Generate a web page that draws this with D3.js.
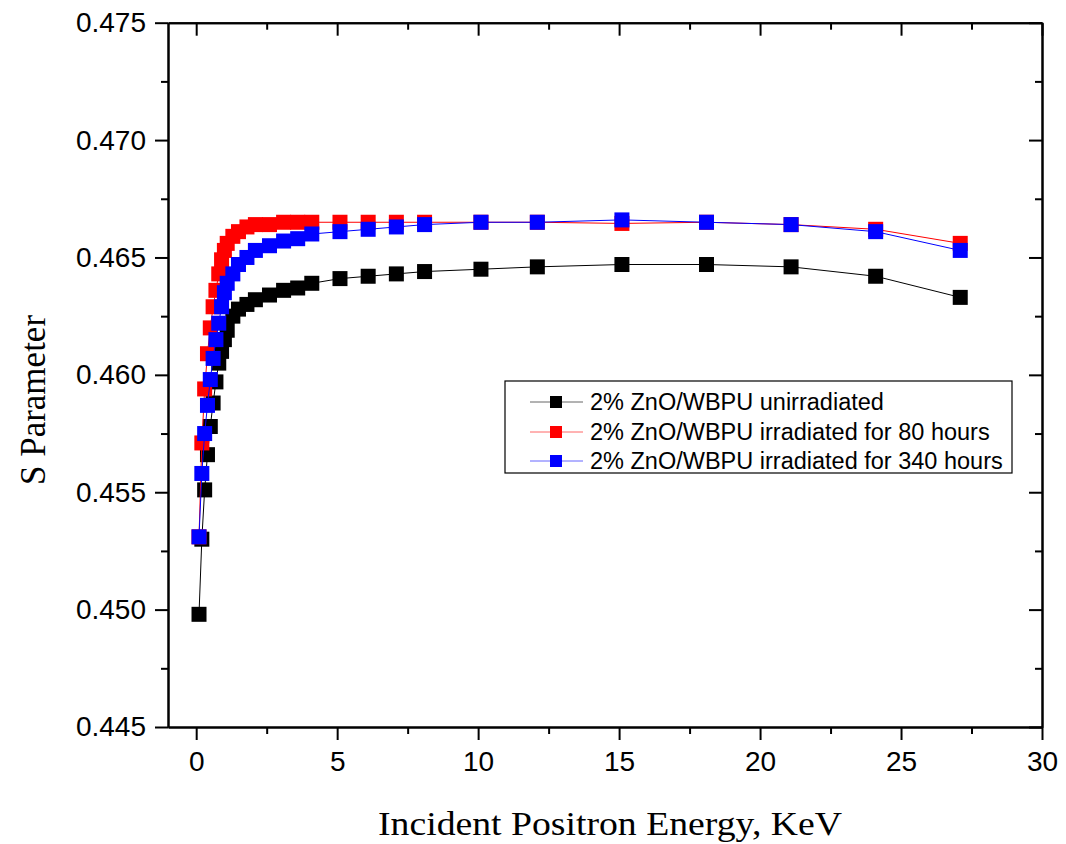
<!DOCTYPE html>
<html>
<head>
<meta charset="utf-8">
<script src="https://cdn.jsdelivr.net/npm/d3@7"></script>
<style>
  html, body { margin: 0; padding: 0; background: #fff; }
  svg { display: block; }
</style>
</head>
<body>
<svg id="chart" width="1066" height="844"></svg>
<script>
// ---- data ----
const energy = [0.1,0.2,0.3,0.4,0.5,0.6,0.7,0.8,0.9,1.0,1.1,1.3,1.5,1.8,2.1,2.6,3.1,3.6,4.1,5.1,6.1,7.1,8.1,10.1,12.1,15.1,18.1,21.1,24.1,27.1];
const sUnirradiated = [0.4498,0.4530,0.4551,0.4566,0.4578,0.4588,0.4597,0.4605,0.4610,0.4615,0.4619,0.4625,0.4628,0.4630,0.4632,0.4634,0.4636,0.4637,0.4639,0.4641,0.4642,0.4643,0.4644,0.4645,0.4646,0.4647,0.4647,0.4646,0.4642,0.4633];
const sIrr80 = [0.4531,0.4571,0.4594,0.4609,0.4620,0.4629,0.4636,0.4643,0.4649,0.4653,0.4656,0.4659,0.4661,0.4663,0.4664,0.4664,0.4665,0.4665,0.4665,0.4665,0.4665,0.4665,0.4665,0.4665,0.4665,0.46645,0.4665,0.4664,0.4662,0.4656];
const sIrr340 = [0.4531,0.4558,0.4575,0.4587,0.4598,0.4607,0.4615,0.4622,0.4629,0.4635,0.4639,0.4643,0.4647,0.4650,0.4653,0.4655,0.4657,0.4658,0.4660,0.4661,0.4662,0.4663,0.4664,0.4665,0.4665,0.4666,0.4665,0.4664,0.4661,0.4653];
const seriesNames = ["2% ZnO/WBPU unirradiated", "2% ZnO/WBPU irradiated for 80 hours", "2% ZnO/WBPU irradiated for 340 hours"];
const seriesColors = ["#000000", "#ff0000", "#0000ff"];
const xTicks = [0,5,10,15,20,25,30];
const yTicks = [0.445,0.450,0.455,0.460,0.465,0.470,0.475];
const xTitle = "Incident Positron Energy, KeV";
const yTitle = "S Parameter";

const seriesValues = [sUnirradiated, sIrr80, sIrr340];

// ---- layout ----
const L = 168, R = 1042, T = 22.7, B = 727;
const svg = d3.select("#chart");
const x = d3.scaleLinear().domain([-1, 30]).range([L, R]);
const y = d3.scaleLinear().domain([0.445, 0.475]).range([B, T]);

const xMinor = d3.range(0, 30.01, 2.5).filter(v => !xTicks.includes(v));
const yMinor = d3.range(0.4475, 0.475, 0.005);

// ---- series ----
const plot = svg.append("g");
seriesValues.forEach((vals, i) => {
  const pts = energy.map((e, k) => [e, vals[k]]);
  plot.append("path")
    .datum(pts)
    .attr("fill", "none")
    .attr("stroke", seriesColors[i])
    .attr("stroke-width", 1)
    .attr("d", d3.line().x(d => x(d[0])).y(d => y(d[1])));
  plot.selectAll(null).data(pts).enter().append("rect")
    .attr("x", d => x(d[0]) - 7.5)
    .attr("y", d => y(d[1]) - 7.5)
    .attr("width", 15).attr("height", 15)
    .attr("fill", seriesColors[i]);
});

// ---- axes ----
const tickFont = "'Liberation Sans', Arial, sans-serif";
const axisStyle = g => {
  g.selectAll("path.domain").attr("stroke", "#000").attr("stroke-width", 2);
  g.selectAll(".tick line").attr("stroke", "#000").attr("stroke-width", 2);
  g.selectAll(".tick text").attr("font-family", tickFont).attr("font-size", 28).attr("fill", "#000");
};

// bottom
svg.append("g").attr("transform", `translate(0,${B})`)
  .call(d3.axisBottom(x).tickValues(xTicks).tickFormat(d3.format("d")).tickSize(13).tickSizeOuter(0).tickPadding(11))
  .call(axisStyle);
svg.append("g").attr("transform", `translate(0,${B})`)
  .call(d3.axisBottom(x).tickValues(xMinor).tickFormat("").tickSize(7).tickSizeOuter(0))
  .call(axisStyle);
// top (inward)
svg.append("g").attr("transform", `translate(0,${T})`)
  .call(d3.axisTop(x).tickValues(xTicks).tickFormat("").tickSize(-13).tickSizeOuter(0))
  .call(axisStyle);
svg.append("g").attr("transform", `translate(0,${T})`)
  .call(d3.axisTop(x).tickValues(xMinor).tickFormat("").tickSize(-7).tickSizeOuter(0))
  .call(axisStyle);
// left
svg.append("g").attr("transform", `translate(${L},0)`)
  .call(d3.axisLeft(y).tickValues(yTicks).tickFormat(d3.format(".3f")).tickSize(13).tickSizeOuter(0).tickPadding(9))
  .call(axisStyle);
svg.append("g").attr("transform", `translate(${L},0)`)
  .call(d3.axisLeft(y).tickValues(yMinor).tickFormat("").tickSize(7).tickSizeOuter(0))
  .call(axisStyle);
// right (inward)
svg.append("g").attr("transform", `translate(${R},0)`)
  .call(d3.axisRight(y).tickValues(yTicks).tickFormat("").tickSize(-13).tickSizeOuter(0))
  .call(axisStyle);
svg.append("g").attr("transform", `translate(${R},0)`)
  .call(d3.axisRight(y).tickValues(yMinor).tickFormat("").tickSize(-7).tickSizeOuter(0))
  .call(axisStyle);

// ---- titles ----
svg.append("text")
  .attr("x", 610).attr("y", 835)
  .attr("text-anchor", "middle")
  .attr("font-family", "'Liberation Serif', 'Times New Roman', serif")
  .attr("font-size", 33)
  .attr("textLength", 464).attr("lengthAdjust", "spacingAndGlyphs")
  .text(xTitle);
svg.append("text")
  .attr("transform", "translate(45,400) rotate(-90)")
  .attr("text-anchor", "middle")
  .attr("font-family", "'Liberation Serif', 'Times New Roman', serif")
  .attr("font-size", 35)
  .text(yTitle);

// ---- legend ----
const leg = svg.append("g");
leg.append("rect").attr("x", 505).attr("y", 381).attr("width", 507).attr("height", 92)
  .attr("fill", "#fff").attr("stroke", "#000").attr("stroke-width", 1.2);
const rowY = [402, 432, 461];
seriesNames.forEach((name, i) => {
  const yy = rowY[i];
  leg.append("line").attr("x1", 530).attr("x2", 583).attr("y1", yy).attr("y2", yy)
    .attr("stroke", seriesColors[i]).attr("stroke-width", 1).attr("stroke-opacity", 0.6);
  leg.append("rect").attr("x", 550).attr("y", yy - 6).attr("width", 12).attr("height", 12)
    .attr("fill", seriesColors[i]);
  leg.append("text").attr("x", 590).attr("y", yy + 8)
    .attr("font-family", tickFont).attr("font-size", 23.5)
    .attr("fill", "#000")
    .text(name);
});
</script>
</body>
</html>
